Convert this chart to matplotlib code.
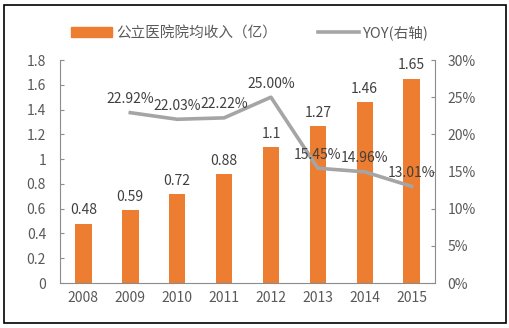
import matplotlib

matplotlib.use("Agg")
import matplotlib.pyplot as plt
from matplotlib.patches import Rectangle
from matplotlib.lines import Line2D

plt.rcParams["font.family"] = ["Noto Sans CJK SC", "DejaVu Sans"]

years = ["2008", "2009", "2010", "2011", "2012", "2013", "2014", "2015"]
revenue = [0.48, 0.59, 0.72, 0.88, 1.1, 1.27, 1.46, 1.65]
revenue_labels = ["0.48", "0.59", "0.72", "0.88", "1.1", "1.27", "1.46", "1.65"]
yoy_years = ["2009", "2010", "2011", "2012", "2013", "2014", "2015"]
yoy = [22.92, 22.03, 22.22, 25.00, 15.45, 14.96, 13.01]

BAR = "#ED7D31"
LINE = "#A5A5A5"
TXT = "#595959"
AX = "#8C8C8C"
FS = 10

fig = plt.figure(figsize=(5.1, 3.28), dpi=100)
ax = fig.add_axes([0.1176, 0.137, 0.7354, 0.68])
x = list(range(len(years)))
ax.bar(x, revenue, width=0.35, color=BAR, zorder=2)
for xi, v, lab in zip(x, revenue, revenue_labels):
    ax.text(xi, v + 0.05, lab, ha="center", va="bottom", fontsize=FS, color="#404040")
ax.set_ylim(0, 1.8)
ax.set_xlim(-0.5, len(years) - 0.5)
ax.set_yticks([i * 0.2 for i in range(10)])
ax.set_yticklabels(["0", "0.2", "0.4", "0.6", "0.8", "1", "1.2", "1.4", "1.6", "1.8"])
ax.set_xticks(x)
ax.set_xticklabels(years)

ax2 = ax.twinx()
xl = [years.index(y) for y in yoy_years]
ax2.plot(xl, yoy, color=LINE, linewidth=2.6, zorder=3)
for xi, v in zip(xl, yoy):
    ax2.text(xi, v + 0.9, f"{v:.2f}%", ha="center", va="bottom", fontsize=FS, color="#404040")
ax2.set_ylim(0, 30)
ax2.set_yticks(range(0, 31, 5))
ax2.set_yticklabels([f"{t}%" for t in range(0, 31, 5)])

for a in (ax, ax2):
    a.spines["top"].set_visible(False)
    a.tick_params(colors=AX, labelcolor=TXT, labelsize=FS, length=3, width=0.8)
    a.tick_params(axis="y", direction="in")
ax.spines["right"].set_visible(False)
ax2.spines["left"].set_visible(False)
ax2.spines["bottom"].set_visible(False)
ax.spines["left"].set_color(AX)
ax.spines["bottom"].set_color(AX)
ax2.spines["right"].set_color(AX)
ax.tick_params(axis="x", length=0, pad=6)
ax.tick_params(axis="y", pad=10)
ax2.tick_params(axis="y", pad=9)

handles = [
    Rectangle((0, 0), 1, 1, color=BAR),
    Line2D([0], [0], color=LINE, linewidth=2.6),
]
fig.legend(handles, ["公立医院院均收入（亿）", "YOY(右轴)"], loc="center",
           bbox_to_anchor=(0.49, 0.9), ncol=2, frameon=False, fontsize=10.5,
           handlelength=2.8, handleheight=0.6, handletextpad=0.3,
           columnspacing=2.8, labelcolor=TXT)

fig.patches.append(Rectangle((0.008, 0.015), 0.984, 0.97, transform=fig.transFigure,
                             fill=False, edgecolor="black", linewidth=1.2))

fig.savefig("out.png", dpi=100)
